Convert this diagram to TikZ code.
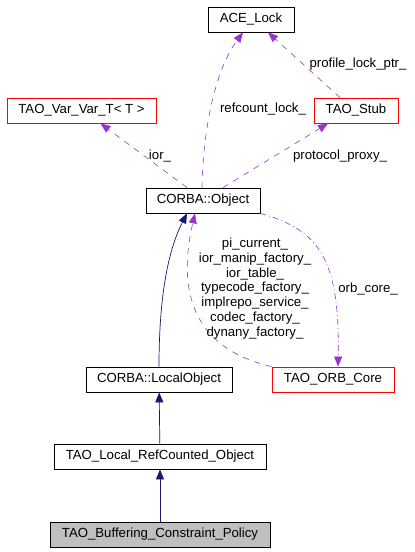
\documentclass[tikz,border=0pt]{standalone}
\usepackage{fontspec}
\setmainfont{Liberation Sans}
\usetikzlibrary{arrows.meta}

\definecolor{edgepurple}{HTML}{9A32CD}
\definecolor{edgenavy}{HTML}{191970}
\definecolor{boxgray}{HTML}{BFBFBF}

\begin{document}
\begin{tikzpicture}[x=1pt, y=-1pt,
        cls/.style={draw=black, line width=0.8pt, minimum height=25pt, inner sep=0pt,
                    font=\fontsize{13.2}{14.7}\selectfont},
        redcls/.style={cls, draw=red},
        inherit/.style={draw=edgenavy, line width=0.7pt, -{Triangle[length=10pt,width=8pt]}, edgenavy},
        usage/.style={draw=edgepurple, line width=0.6pt, dash pattern=on 6pt off 6pt,
                      -{Triangle[length=10pt,width=8pt]}, edgepurple},
        lbl/.style={font=\fontsize{13.2}{14.7}\selectfont, inner sep=0pt, align=center}]
        % Page size
        \useasboundingbox (0,0) rectangle (415,552);

        % Classes
        \node[cls, minimum width=86pt] (acelock) at (251,19.5) {ACE\_Lock};
        \node[redcls, minimum width=149pt] (varvar) at (81.5,110.5) {TAO\_Var\_Var\_T< T >};
        \node[redcls, minimum width=84pt] (stub) at (356,110.5) {TAO\_Stub};
        \node[cls, minimum width=114pt] (object) at (203,200.5) {CORBA::Object};
        \node[cls, minimum width=146pt] (localobj) at (159,379.5) {CORBA::LocalObject};
        \node[redcls, minimum width=122pt] (orbcore) at (333,379.5) {TAO\_ORB\_Core};
        \node[cls, minimum width=212pt] (refcounted) at (160,456.5) {TAO\_Local\_RefCounted\_Object};
        \node[cls, fill=boxgray, minimum width=220pt] (buffering) at (160,534.5) {TAO\_Buffering\_Constraint\_Policy};

        % Inheritance
        \draw[inherit] (buffering) -- (refcounted);
        \draw[inherit] (refcounted) -- (localobj);
        \draw[inherit] (localobj.north) .. controls (159,320) and (163,260) .. ([xshift=-16pt]object.south);

        % Members
        \draw[usage] ([xshift=-1pt]object.north) .. controls (203,130) and (215,70) .. ([xshift=-8pt]acelock.south);
        \draw[usage] ([xshift=-16pt]stub.north) -- ([xshift=17pt]acelock.south);
        \draw[usage] ([xshift=-16pt]object.north) -- ([xshift=19pt]varvar.south);
        \draw[usage] ([xshift=20pt]object.north) -- ([xshift=-28pt]stub.south);
        \draw[usage, dash pattern=on 6pt off 3pt on 1pt off 3pt] (object.south east)
            .. controls (320,230) and (340,260) .. ([xshift=5pt]orbcore.north);
        \draw[usage] (orbcore.north west) .. controls (200,350) and (175,300) .. ([xshift=-8pt]object.south);

        % Member labels
        \node[lbl] (lrefcount) at (263,109) {refcount\_lock\_};
        \node[lbl] (lprofile) at (358,64) {profile\_lock\_ptr\_};
        \node[lbl] (lior) at (160,156) {ior\_};
        \node[lbl] (lproxy) at (340,156) {protocol\_proxy\_};
        \node[lbl] (lorbcore) at (368,289) {orb\_core\_};
        \node[lbl] (lfactories) at (255,288.5) {pi\_current\_\\ior\_manip\_factory\_\\ior\_table\_\\typecode\_factory\_\\implrepo\_service\_\\codec\_factory\_\\dynany\_factory\_};
    \end{tikzpicture}
\end{document}
